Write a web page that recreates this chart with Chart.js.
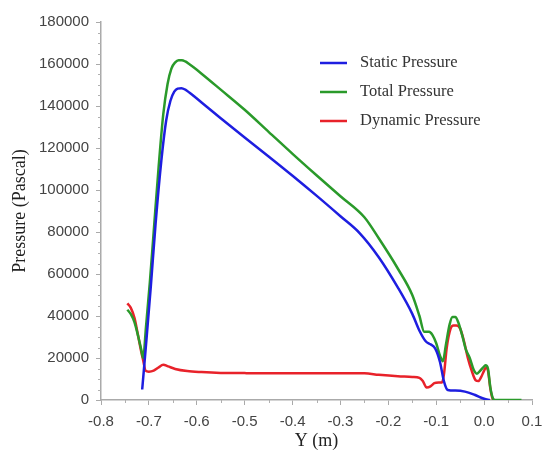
<!DOCTYPE html>
<html>
<head>
<meta charset="utf-8">
<script src="https://cdn.jsdelivr.net/npm/chart.js@4/dist/chart.umd.min.js"></script>
<style>
  html, body { margin: 0; padding: 0; background: #ffffff; }
  #wrap { width: 545px; height: 452px; position: relative; }
</style>
</head>
<body>
<div id="wrap"><canvas id="c" width="545" height="452"></canvas></div>
<script>
// ---- Data ----
const seriesNames = ["Static Pressure", "Total Pressure", "Dynamic Pressure"];

const staticX = [-0.714, -0.705, -0.696, -0.686, -0.674, -0.664, -0.655, -0.647, -0.640, -0.632, -0.624, -0.615, -0.605, -0.590, -0.55, -0.50, -0.45, -0.40, -0.35, -0.30, -0.26, -0.22, -0.18, -0.15, -0.135, -0.122, -0.112, -0.102, -0.092, -0.084, -0.076, -0.060, -0.040, -0.020, 0.000, 0.012];
const staticY = [5000, 29000, 54000, 84000, 114000, 133000, 142500, 146800, 148300, 148500, 147800, 146300, 144500, 141700, 134200, 125000, 116000, 106800, 97300, 87500, 79500, 68000, 53500, 41000, 33000, 28000, 26500, 24500, 18000, 9000, 4800, 4500, 4000, 2500, 600, 0];

const totalX = [-0.745, -0.738, -0.730, -0.722, -0.716, -0.712, -0.706, -0.698, -0.690, -0.680, -0.670, -0.661, -0.653, -0.645, -0.638, -0.631, -0.624, -0.616, -0.606, -0.590, -0.55, -0.50, -0.45, -0.40, -0.35, -0.30, -0.25, -0.22, -0.18, -0.15, -0.135, -0.125, -0.115, -0.108, -0.100, -0.092, -0.086, -0.080, -0.072, -0.066, -0.060, -0.054, -0.046, -0.038, -0.030, -0.022, -0.015, -0.008, -0.002, 0.003, 0.008, 0.013, 0.018, 0.022, 0.040, 0.060, 0.078];
const totalY = [43000, 41000, 37000, 30000, 24000, 20000, 35000, 56000, 80000, 110000, 136000, 150500, 157800, 160800, 161800, 161800, 161200, 160000, 158300, 155400, 147800, 138200, 127700, 117200, 107000, 97000, 87000, 77000, 62500, 50000, 40000, 32500, 32500, 31000, 27000, 21000, 18500, 26000, 36000, 39500, 39500, 37000, 31000, 24000, 20000, 14500, 12500, 14000, 15500, 16500, 15000, 6000, 1000, 0, 0, 0, 0];

const dynamicX = [-0.745, -0.738, -0.730, -0.722, -0.716, -0.712, -0.707, -0.700, -0.690, -0.680, -0.670, -0.660, -0.645, -0.620, -0.590, -0.550, -0.500, -0.400, -0.300, -0.250, -0.220, -0.180, -0.150, -0.135, -0.128, -0.120, -0.112, -0.104, -0.095, -0.088, -0.084, -0.078, -0.070, -0.064, -0.058, -0.050, -0.042, -0.034, -0.026, -0.018, -0.012, -0.006, 0.000, 0.004, 0.008, 0.013, 0.018, 0.022];
const dynamicY = [46000, 44000, 39000, 30000, 23000, 19000, 14000, 13500, 14000, 15500, 16800, 16000, 14800, 13800, 13300, 12900, 12800, 12700, 12700, 12700, 12000, 11300, 11000, 10500, 9000, 6000, 6500, 8000, 8300, 8300, 12000, 25000, 34000, 35500, 35500, 34000, 28000, 20000, 14000, 9500, 9000, 11000, 14000, 15500, 14000, 5500, 500, 0];

const xTickMin = -0.8, xTickMax = 0.1, xTickStep = 0.1, xMinorStep = 0.05;
const yTickMin = 0, yTickMax = 180000, yTickStep = 20000, yMinorStep = 5000;

const seriesColors = ["#1e1ee0", "#2a9a2a", "#e8222a"];

function pts(xs, ys) { return xs.map((x, i) => ({ x: x, y: ys[i] })); }

// ---- Plugins ----
const minorTicks = {
  id: 'minorTicks',
  afterDraw(chart) {
    const ctx = chart.ctx;
    const xs = chart.scales.x, ys = chart.scales.y;
    ctx.save();
    ctx.strokeStyle = '#b0b0b0';
    ctx.lineWidth = 1;
    ctx.beginPath();
    for (let v = yTickMin; v <= yTickMax + 1; v += yMinorStep) {
      if (v % yTickStep === 0) continue;
      const py = Math.round(ys.getPixelForValue(v)) + 0.5;
      ctx.moveTo(xs.left - 3, py);
      ctx.lineTo(xs.left, py);
    }
    const n = Math.round((xTickMax - xTickMin) / xMinorStep);
    for (let i = 0; i <= n; i++) {
      if (i % 2 === 0) continue;
      const v = xTickMin + i * xMinorStep;
      const px = Math.round(xs.getPixelForValue(v)) + 0.5;
      ctx.moveTo(px, ys.bottom);
      ctx.lineTo(px, ys.bottom + 3);
    }
    ctx.stroke();
    ctx.restore();
  }
};

const insideLegend = {
  id: 'insideLegend',
  afterDraw(chart, args, opts) {
    const ctx = chart.ctx;
    ctx.save();
    ctx.font = opts.font;
    ctx.textBaseline = 'middle';
    ctx.textAlign = 'left';
    chart.data.datasets.forEach((ds, i) => {
      const y = opts.y + i * opts.spacing;
      ctx.strokeStyle = ds.borderColor;
      ctx.lineWidth = 2.5;
      ctx.beginPath();
      ctx.moveTo(opts.x, y);
      ctx.lineTo(opts.x + opts.lineLen, y);
      ctx.stroke();
      ctx.fillStyle = opts.color;
      ctx.fillText(ds.label, opts.x + opts.lineLen + opts.gap, y);
    });
    ctx.restore();
  }
};

const tickFont = { family: "'Liberation Sans', Arial, sans-serif", size: 15 };
const titleFont = { family: "'Liberation Serif', 'Times New Roman', serif", size: 18 };

new Chart(document.getElementById('c'), {
  type: 'line',
  data: {
    datasets: [
      { label: seriesNames[0], data: pts(staticX, staticY), borderColor: seriesColors[0] },
      { label: seriesNames[1], data: pts(totalX, totalY), borderColor: seriesColors[1] },
      { label: seriesNames[2], data: pts(dynamicX, dynamicY), borderColor: seriesColors[2] }
    ].map(d => Object.assign(d, {
      borderWidth: 2.5, pointRadius: 0, fill: false,
      cubicInterpolationMode: 'monotone', backgroundColor: d.borderColor
    }))
  },
  options: {
    responsive: false,
    animation: false,
    layout: { padding: { top: 22, right: 13, left: 0, bottom: 0 } },
    plugins: {
      legend: { display: false },
      tooltip: { enabled: false },
      insideLegend: {
        x: 320, y: 63, spacing: 29, lineLen: 27, gap: 13,
        font: "16.5px 'Liberation Serif', 'Times New Roman', serif",
        color: '#333333'
      }
    },
    scales: {
      x: {
        type: 'linear',
        min: xTickMin, max: xTickMax,
        afterFit: s => { s.height = 52; s.paddingRight = 0; s.paddingLeft = 0; },
        ticks: {
          stepSize: xTickStep, color: '#444444', font: tickFont, padding: 8,
          maxRotation: 0,
          callback: v => (Math.abs(v) < 1e-9 ? '0.0' : Number(v).toFixed(1))
        },
        grid: { drawOnChartArea: false, drawTicks: true, tickLength: 5, color: '#aaaaaa' },
        border: { color: '#aaaaaa', width: 1.5 },
        title: { display: true, text: 'Y (m)', font: titleFont, color: '#222222', padding: { top: 0, bottom: 0 } }
      },
      y: {
        type: 'linear',
        min: yTickMin, max: yTickMax,
        afterFit: s => { s.width = 101; },
        ticks: {
          stepSize: yTickStep, color: '#444444', font: tickFont, padding: 7,
          callback: v => String(Math.round(v))
        },
        grid: { drawOnChartArea: false, drawTicks: true, tickLength: 5, color: '#aaaaaa' },
        border: { color: '#aaaaaa', width: 1.5 },
        title: { display: true, text: 'Pressure (Pascal)', font: titleFont, color: '#222222', padding: { top: 9, bottom: 0 } }
      }
    }
  },
  plugins: [minorTicks, insideLegend]
});
</script>
</body>
</html>
